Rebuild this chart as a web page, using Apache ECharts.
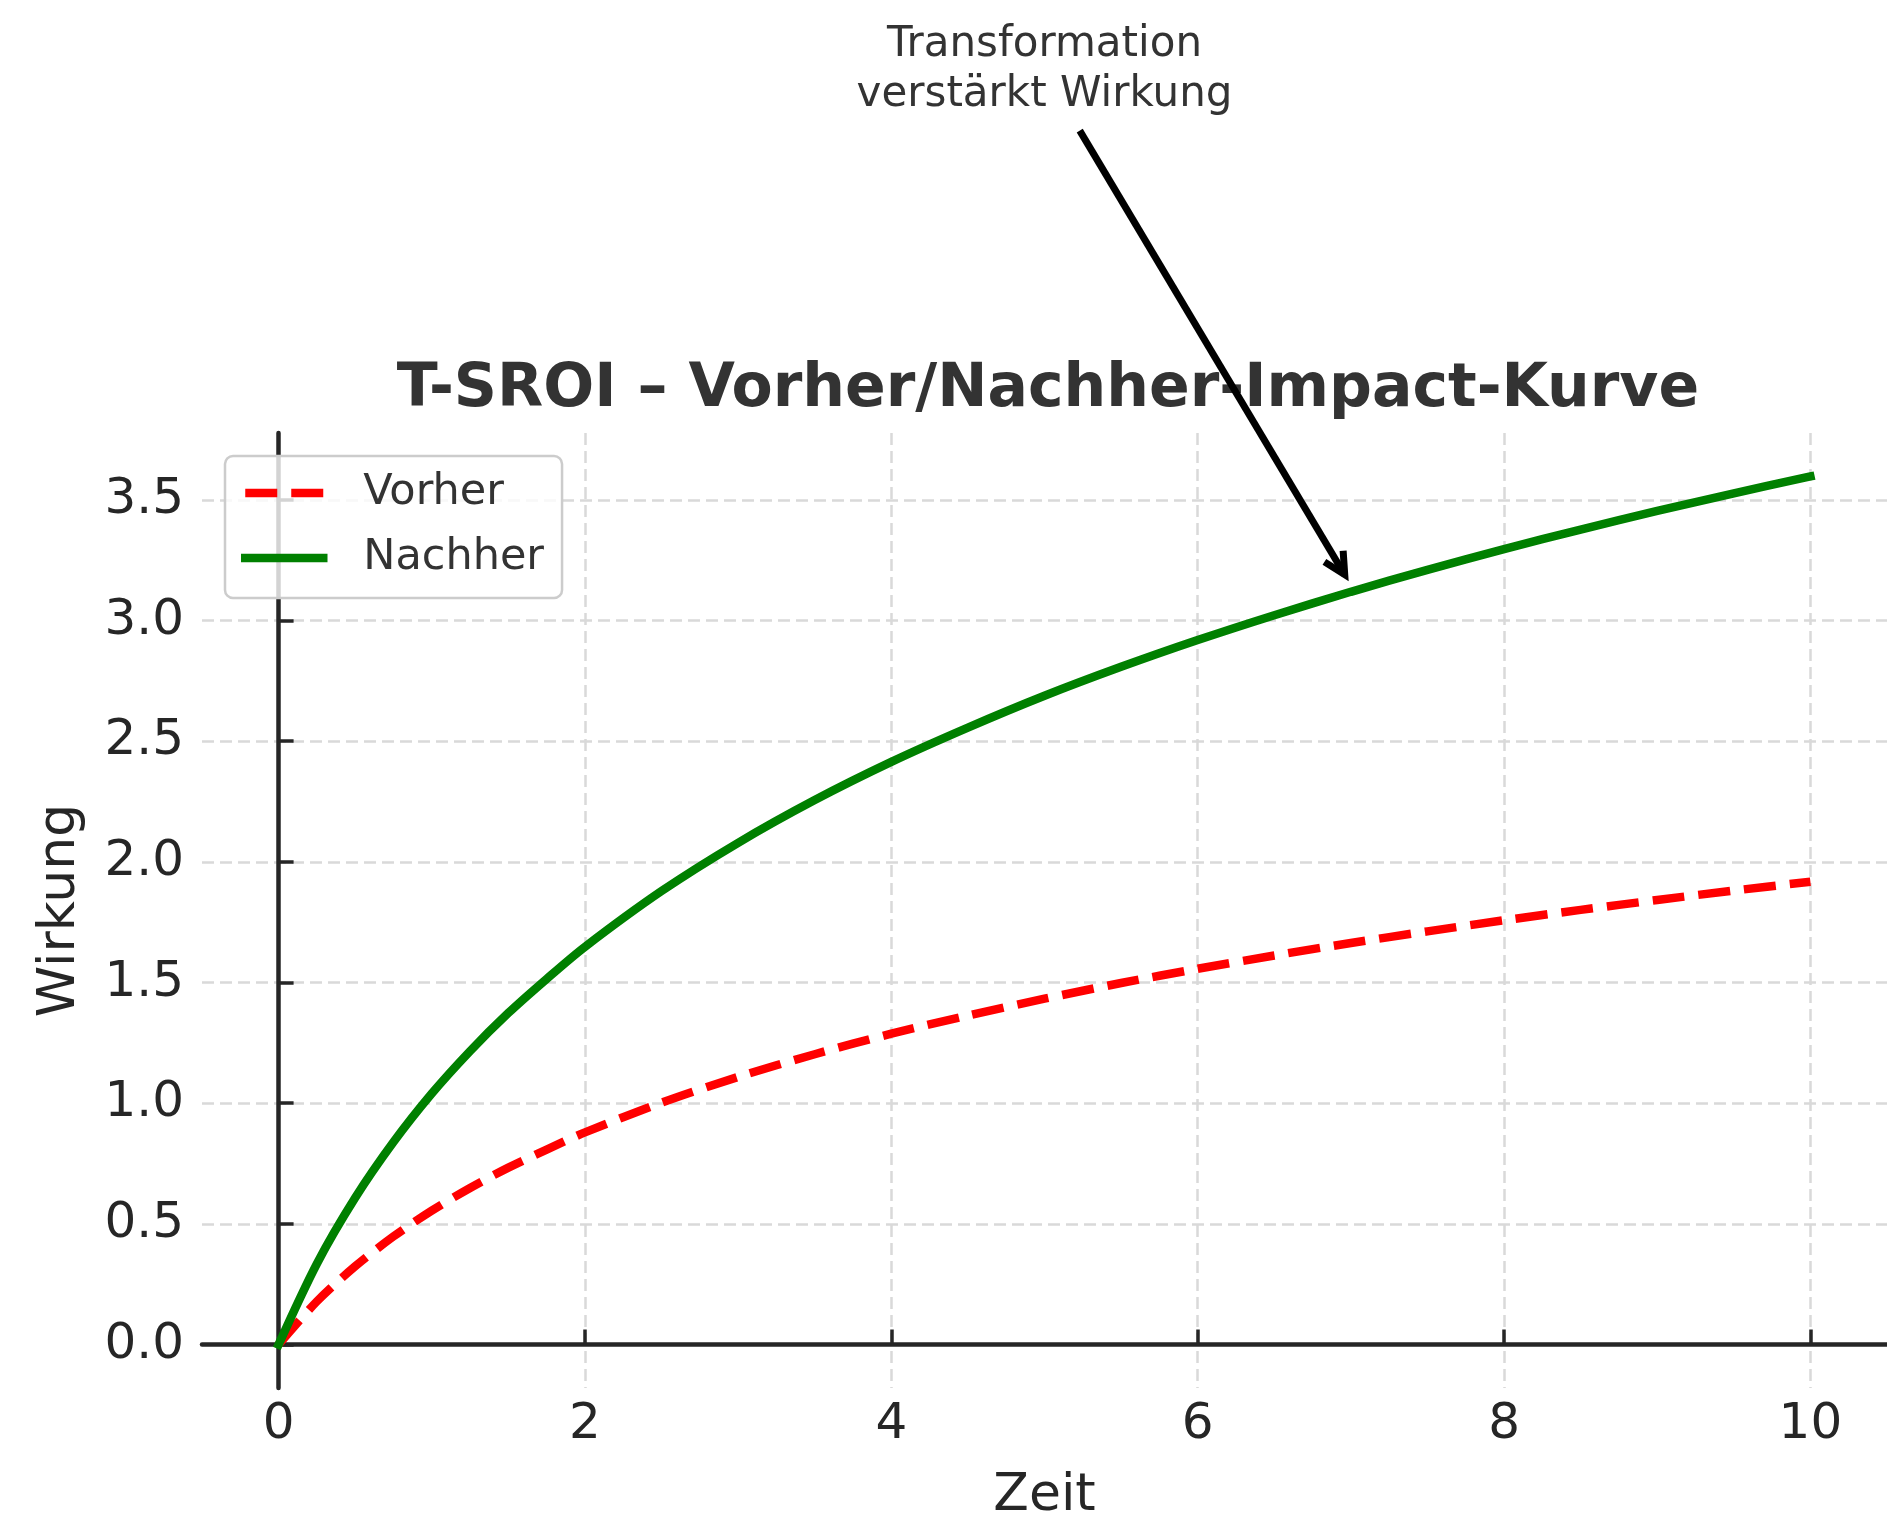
<!DOCTYPE html>
<html>
<head>
<meta charset="utf-8">
<title>T-SROI – Vorher/Nachher-Impact-Kurve</title>
<script src="https://cdn.jsdelivr.net/npm/echarts@6/dist/echarts.min.js"></script>
<style>
  html, body { margin: 0; padding: 0; background: #fff; }
  #chart { width: 1887px; height: 1518px; }
</style>
</head>
<body>
<div id="chart"></div>
<script>
// Zeitpunkte und Wirkung
const zeit = [0, 0.25, 0.5, 0.75, 1, 1.25, 1.5, 1.75, 2, 2.5, 3, 3.5, 4, 4.5, 5, 5.5, 6, 6.5, 7, 7.5, 8, 8.5, 9, 9.5, 10]
const vorher = [0, 0.179, 0.324, 0.448, 0.555, 0.649, 0.733, 0.808, 0.879, 1.002, 1.109, 1.203, 1.288, 1.363, 1.433, 1.498, 1.557, 1.612, 1.664, 1.712, 1.758, 1.801, 1.842, 1.881, 1.918]
const nachher = [0, 0.335, 0.608, 0.839, 1.040, 1.216, 1.374, 1.515, 1.648, 1.879, 2.079, 2.256, 2.414, 2.556, 2.688, 2.808, 2.919, 3.022, 3.119, 3.210, 3.296, 3.377, 3.454, 3.527, 3.597]

const xTicks = [0, 2, 4, 6, 8, 10]
const yTicks = [0, 0.5, 1, 1.5, 2, 2.5, 3, 3.5]
const xRange = [-0.5, 10.5]
const yRange = [-0.18, 3.777]

// Annotation (Datenkoordinaten)
const annotationLabel = ['Transformation', 'verstärkt Wirkung']
const annotationTextAt = [5.0, 5.28]
const arrowFrom = [5.23, 5.03]
const arrowTo = [6.96, 3.19]

const FONT = '"DejaVu Sans", sans-serif'
const mChart = echarts.init(document.getElementById('chart'))

const toPairs = (xs, ys) => xs.map((x, i) => [x, ys[i]])

const axisCommon = {
  type: 'value',
  axisLine: { show: true, lineStyle: { color: '#262626', width: 4.5 } },
  axisTick: { show: true, inside: true, length: 15, lineStyle: { color: '#262626', width: 3.5 } },
  splitLine: { show: true, lineStyle: { color: '#d9d9d9', width: 2.5, type: [12, 6] } },
  nameLocation: 'middle',
  nameTextStyle: { fontFamily: FONT, fontSize: 52, color: '#262626' }
}

const options = {
  backgroundColor: '#ffffff',
  animation: false,
  title: {
    text: 'T-SROI – Vorher/Nachher-Impact-Kurve',
    left: 1043,
    textAlign: 'center',
    top: 355,
    textStyle: { fontFamily: FONT, fontSize: 60, fontWeight: 'bold', color: '#333333' }
  },
  grid: { left: 202, top: 433, right: 0, bottom: 130, outerBoundsMode: 'none' },
  legend: {
    orient: 'vertical',
    left: 225,
    top: 456,
    padding: [12, 18, 15, 16],
    itemWidth: 78,
    itemHeight: 20,
    itemGap: 15,
    backgroundColor: 'rgba(255,255,255,0.8)',
    borderColor: '#cccccc',
    borderWidth: 2.5,
    borderRadius: 8,
    lineStyle: { width: 8.5 },
    itemStyle: { opacity: 0 },
    textStyle: { fontFamily: FONT, fontSize: 43, lineHeight: 50, color: '#333333', padding: [0, 0, 0, 35] },
    data: ['Vorher', 'Nachher']
  },
  xAxis: Object.assign({}, axisCommon, {
    min: xRange[0],
    max: xRange[1],
    name: 'Zeit',
    nameGap: 82,
    axisTick: Object.assign({}, axisCommon.axisTick, { customValues: xTicks }),
    axisLabel: { customValues: xTicks, margin: 12, fontFamily: FONT, fontSize: 50, color: '#262626' }
  }),
  yAxis: Object.assign({}, axisCommon, {
    min: yRange[0],
    max: yRange[1],
    name: 'Wirkung',
    nameGap: 116,
    axisTick: Object.assign({}, axisCommon.axisTick, { customValues: yTicks }),
    axisLabel: {
      customValues: yTicks, margin: 18, fontFamily: FONT, fontSize: 50, color: '#262626',
      formatter: v => v.toFixed(1)
    }
  }),
  series: [
    {
      name: 'Vorher',
      type: 'line',
      data: toPairs(zeit, vorher),
      smooth: 0.3,
      showSymbol: false,
      symbol: 'none',
      lineStyle: { color: '#ff0000', width: 8.5, type: [32, 14] },
      itemStyle: { color: '#ff0000' },
      z: 3
    },
    {
      name: 'Nachher',
      type: 'line',
      data: toPairs(zeit, nachher),
      smooth: 0.3,
      showSymbol: false,
      symbol: 'none',
      lineStyle: { color: '#008000', width: 8.5, cap: 'square' },
      itemStyle: { color: '#008000' },
      z: 4
    }
  ]
}
mChart.setOption(options)

// Pfeil und Text der Annotation ueber die Achsen umrechnen
const px = p => mChart.convertToPixel({ gridIndex: 0 }, p)
const tail = px(arrowFrom)
const tip = px(arrowTo)
const textPos = px(annotationTextAt)
const ang = Math.atan2(tip[1] - tail[1], tip[0] - tail[0])
const wing = 24
const spread = 27 * Math.PI / 180
const w1 = [tip[0] - wing * Math.cos(ang - spread), tip[1] - wing * Math.sin(ang - spread)]
const w2 = [tip[0] - wing * Math.cos(ang + spread), tip[1] - wing * Math.sin(ang + spread)]

mChart.setOption({
  graphic: [
    {
      type: 'text',
      x: textPos[0],
      y: textPos[1],
      z: 10,
      style: {
        text: annotationLabel.join('\n'),
        fontFamily: FONT,
        fontSize: 42,
        lineHeight: 50,
        fill: '#333333',
        align: 'center',
        verticalAlign: 'middle'
      }
    },
    {
      type: 'line',
      z: 10,
      shape: { x1: tail[0], y1: tail[1], x2: tip[0], y2: tip[1] },
      style: { stroke: '#000000', lineWidth: 7 }
    },
    {
      type: 'polyline',
      z: 10,
      shape: { points: [w1, tip, w2] },
      style: { stroke: '#000000', lineWidth: 7, fill: null, lineJoin: 'miter' }
    }
  ]
})
</script>
</body>
</html>
